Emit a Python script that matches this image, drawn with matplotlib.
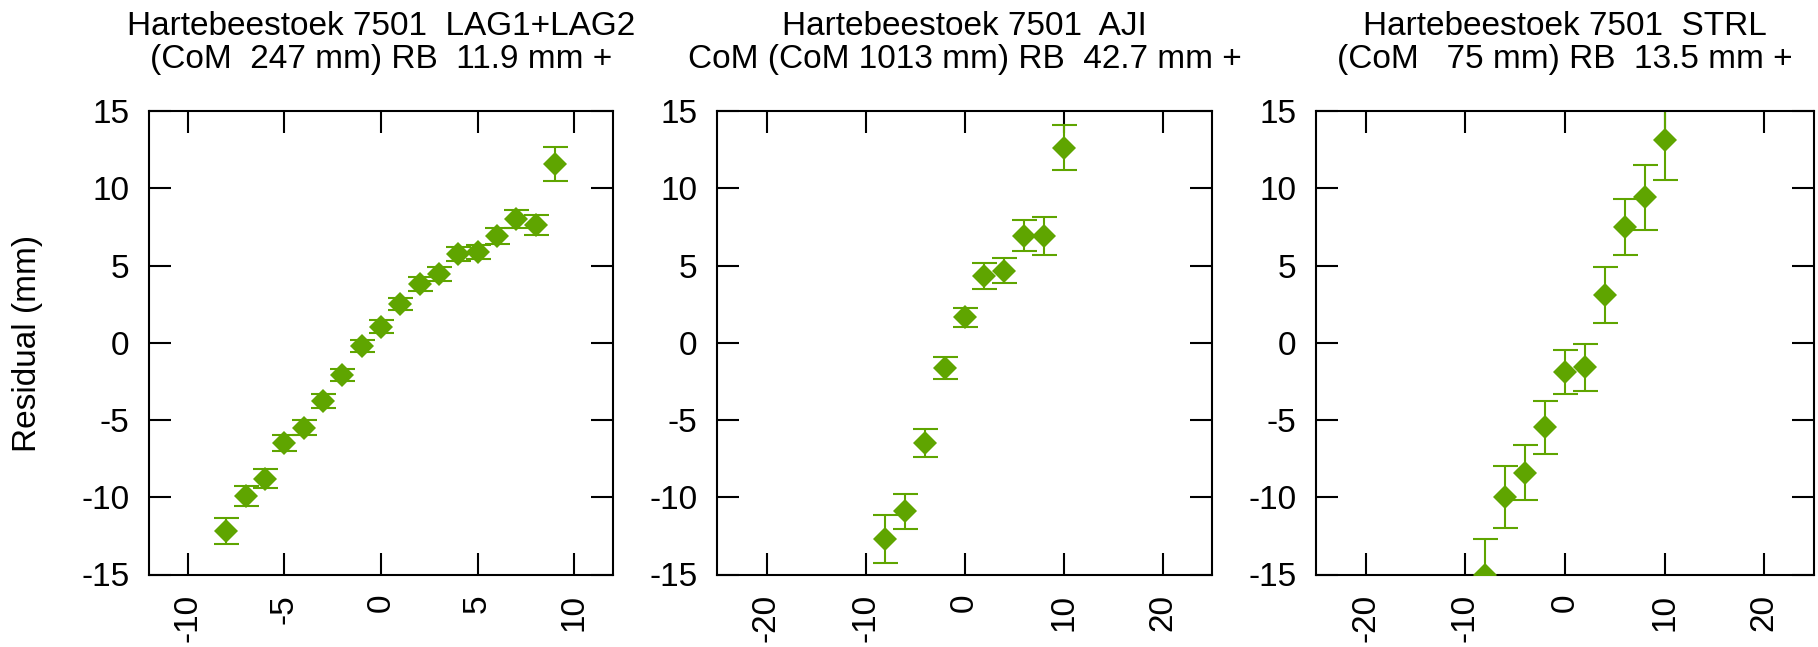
import numpy as np
import matplotlib
matplotlib.use('Agg')
import matplotlib.pyplot as plt

plt.rcParams['font.family'] = ['Liberation Sans', 'DejaVu Sans']
plt.rcParams['axes.unicode_minus'] = False

# LAG1+LAG2
x_lag = [-8, -7, -6, -5, -4, -3, -2, -1, 0, 1, 2, 3, 4, 5, 6, 7, 8, 9]
y_lag = [-12.2, -9.9, -8.8, -6.5, -5.5, -3.75, -2.1, -0.2, 1.05, 2.5, 3.8, 4.45,
         5.75, 5.9, 6.9, 8.0, 7.6, 11.6]
e_lag = [0.85, 0.65, 0.6, 0.5, 0.5, 0.45, 0.4, 0.4, 0.4, 0.4, 0.45, 0.45,
         0.45, 0.45, 0.5, 0.6, 0.65, 1.1]

# AJI
x_aji = [-8, -6, -4, -2, 0, 2, 4, 6, 8, 10]
y_aji = [-12.7, -10.9, -6.5, -1.63, 1.64, 4.31, 4.67, 6.93, 6.92, 12.63]
e_aji = [1.53, 1.13, 0.91, 0.71, 0.64, 0.83, 0.81, 1.0, 1.23, 1.44]

# STRL
x_strl = [-8, -6, -4, -2, 0, 2, 4, 6, 8, 10]
y_strl = [-15.0, -10.0, -8.4, -5.47, -1.9, -1.6, 3.09, 7.5, 9.43, 13.1]
e_strl = [2.3, 2.0, 1.8, 1.72, 1.4, 1.52, 1.8, 1.81, 2.1, 2.55]

title1 = ['Hartebeestoek 7501  LAG1+LAG2', '(CoM  247 mm) RB  11.9 mm +']
title2 = ['Hartebeestoek 7501  AJI', 'CoM (CoM 1013 mm) RB  42.7 mm +']
title3 = ['Hartebeestoek 7501  STRL', '(CoM   75 mm) RB  13.5 mm +']

green = '#5fa500'
fs = 24
W, H = 1818, 647
fig = plt.figure(figsize=(W / 100, H / 100), dpi=100)

def px_axes(l, r, t=111, b=574.5):
    return fig.add_axes([l / W, (H - b) / H, (r - l) / W, (b - t) / H])

panels = [
    (px_axes(149, 613), x_lag, y_lag, e_lag, (-12, 12), [-10, -5, 0, 5, 10], title1),
    (px_axes(717, 1212), x_aji, y_aji, e_aji, (-25, 25), [-20, -10, 0, 10, 20], title2),
    (px_axes(1316, 1814), x_strl, y_strl, e_strl, (-25, 25), [-20, -10, 0, 10, 20], title3),
]

for ax, x, y, e, xl, xt, tt in panels:
    ax.errorbar(x, y, yerr=e, fmt='none', ecolor=green, elinewidth=1.5,
                capsize=9, capthick=1.5, zorder=2)
    ax.plot(x, y, 'D', color=green, ms=12, mew=0, zorder=3)
    ax.set_xlim(*xl)
    ax.set_ylim(-15, 15)
    ax.set_xticks(xt)
    ax.set_yticks([-15, -10, -5, 0, 5, 10, 15])
    ax.tick_params(direction='in', length=16, width=1.5, top=True, right=True,
                   labelsize=fs, pad=14)
    for lab in ax.get_xticklabels():
        lab.set_rotation(90)
    for s in ax.spines.values():
        s.set_linewidth(1.5)
    bb = ax.get_position()
    cx = (bb.x0 + bb.x1) / 2
    fig.text(cx, 1 - 35 / H, tt[0], ha='center', va='baseline', fontsize=fs)
    fig.text(cx, 1 - 68 / H, tt[1], ha='center', va='baseline', fontsize=fs)

fig.text(28 / W, 1 - 343 / H, 'Residual (mm)', rotation=90, ha='center',
         va='center', fontsize=fs)

fig.savefig('out.png', dpi=100)
